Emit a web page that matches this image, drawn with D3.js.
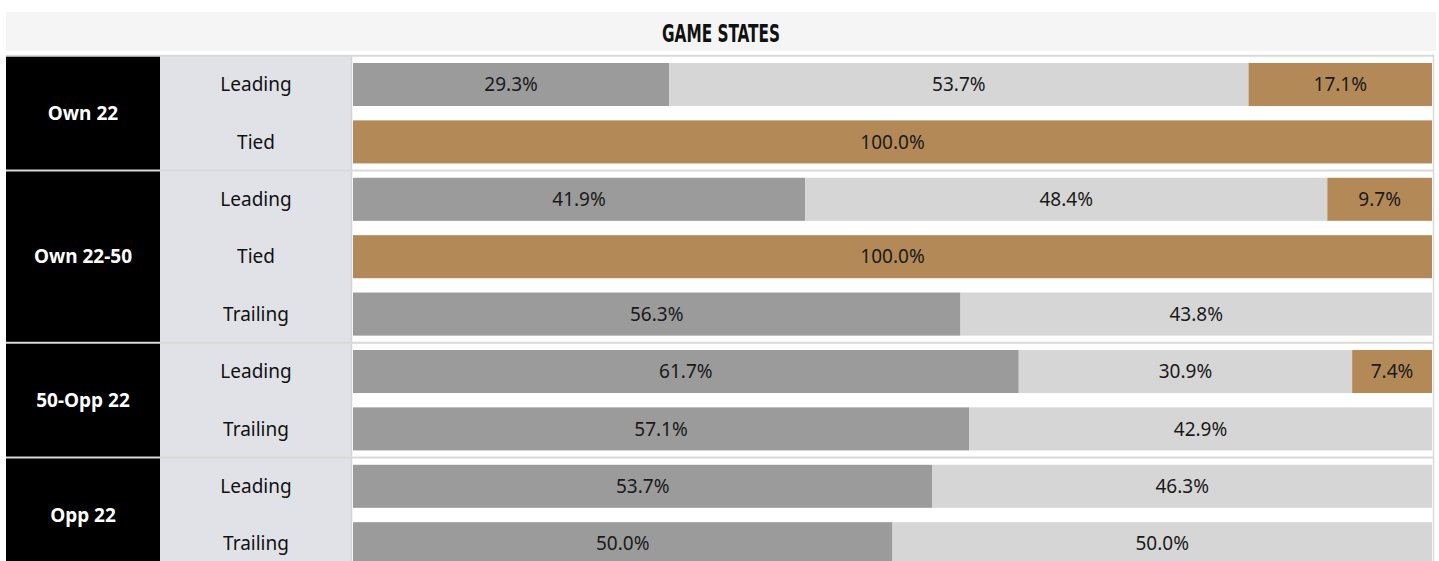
<!DOCTYPE html>
<html>
<head>
<meta charset="utf-8">
<script src="https://cdn.jsdelivr.net/npm/d3@7"></script>
<style>
  body { margin: 0; background: #fff; }
  svg { display: block; }
</style>
</head>
<body>
<div class="canvas"></div>
<script>
// data
const zones = ['Own 22', 'Own 22-50', '50-Opp 22', 'Opp 22'];
const rowZones = ['Own 22', 'Own 22', 'Own 22-50', 'Own 22-50', 'Own 22-50', '50-Opp 22', '50-Opp 22', 'Opp 22', 'Opp 22'];
const rowStates = ['Leading', 'Tied', 'Leading', 'Tied', 'Trailing', 'Leading', 'Trailing', 'Leading', 'Trailing'];
const seriesKeys = ['dark', 'light', 'gold'];
const darkVals = [29.3, 0, 41.9, 0, 56.3, 61.7, 57.1, 53.7, 50.0];
const lightVals = [53.7, 0, 48.4, 0, 43.8, 30.9, 42.9, 46.3, 50.0];
const goldVals = [17.1, 100, 9.7, 100, 0, 7.4, 0, 0, 0];
const title = 'GAME STATES';

const colors = {dark: '#9b9b9b', light: '#d6d6d6', gold: '#b38a57'};

const width = 1439, height = 561;
const svg = d3.select('.canvas')
    .append('svg')
    .attr('width', width)
    .attr('height', height);

// layout
const left = 6, zoneW = 154, stateW = 192;
const barX0 = 353, barX1 = 1432;
const topY = 55.8, step = 57.4;

const rows = rowStates.map((s, i) => ({
  id: i, zone: rowZones[i], state: s,
  dark: darkVals[i], light: lightVals[i], gold: goldVals[i]
}));

const y = d3.scaleBand()
    .domain(rows.map(d => d.id))
    .range([topY, topY + step * rows.length])
    .paddingInner(0.25)
    .paddingOuter(0.125);

const x = d3.scaleLinear()
    .domain([0, 100])
    .range([barX0, barX1])
    .clamp(true);

// title band
svg.append('rect')
    .attr('x', left).attr('y', 12)
    .attr('width', 1430).attr('height', 39)
    .attr('fill', '#f5f5f5');
svg.append('text')
    .attr('x', 721).attr('y', 41.5)
    .attr('text-anchor', 'middle')
    .attr('font-family', '"Liberation Sans Narrow", "DejaVu Sans Condensed", sans-serif')
    .attr('font-weight', 'bold')
    .attr('font-size', 24)
    .attr('textLength', 118)
    .attr('lengthAdjust', 'spacingAndGlyphs')
    .attr('fill', '#111')
    .text(title);

// zone groups
const zoneRows = zones.map(z => {
  const ids = rows.filter(r => r.zone === z).map(r => r.id);
  const y0 = y(ids[0]) - y.step() * y.paddingInner() / 2;
  const y1 = y(ids[ids.length - 1]) + y.bandwidth() + y.step() * y.paddingInner() / 2;
  return {zone: z, y0, y1};
});

// state label panel
svg.append('rect')
    .attr('x', left + zoneW).attr('y', topY)
    .attr('width', stateW).attr('height', height - topY)
    .attr('fill', '#e1e2e7');
svg.append('line')
    .attr('x1', left + zoneW + stateW - 0.5).attr('x2', left + zoneW + stateW - 0.5)
    .attr('y1', topY).attr('y2', height)
    .attr('stroke', '#d3d4d8').attr('stroke-width', 1.5);

// black zone blocks
svg.selectAll('rect.zone')
    .data(zoneRows)
    .enter()
    .append('rect')
    .attr('class', 'zone')
    .attr('x', left)
    .attr('y', d => d.y0)
    .attr('width', zoneW)
    .attr('height', d => d.y1 - d.y0)
    .attr('fill', '#000');

svg.selectAll('text.zone')
    .data(zoneRows)
    .enter()
    .append('text')
    .attr('class', 'zone')
    .attr('x', left + zoneW / 2)
    .attr('y', d => (d.y0 + d.y1) / 2)
    .attr('dy', '0.35em')
    .attr('text-anchor', 'middle')
    .attr('font-family', '"Noto Sans", "Open Sans", sans-serif')
    .attr('font-weight', 'bold')
    .attr('font-size', 19)
    .attr('fill', '#fff')
    .text(d => d.zone);

// separators between zones (and on top)
svg.selectAll('line.sep')
    .data(zoneRows)
    .enter()
    .append('line')
    .attr('class', 'sep')
    .attr('x1', left).attr('x2', barX1 + 2)
    .attr('y1', d => d.y0).attr('y2', d => d.y0)
    .attr('stroke', '#d9d9d9')
    .attr('stroke-width', 2);

// right border of bar area
svg.append('line')
    .attr('x1', barX1 + 1.5).attr('x2', barX1 + 1.5)
    .attr('y1', topY - 1).attr('y2', height)
    .attr('stroke', '#d9d9d9')
    .attr('stroke-width', 1.5);

// state labels
svg.selectAll('text.state')
    .data(rows)
    .enter()
    .append('text')
    .attr('class', 'state')
    .attr('x', left + zoneW + stateW / 2)
    .attr('y', d => y(d.id) + y.bandwidth() / 2)
    .attr('dy', '0.35em')
    .attr('text-anchor', 'middle')
    .attr('font-family', '"Noto Sans", "Open Sans", sans-serif')
    .attr('font-size', 19)
    .attr('fill', '#111')
    .text(d => d.state);

// stacked bars
const stacked = d3.stack().keys(seriesKeys)(rows);

const layers = svg.selectAll('g.layer')
    .data(stacked)
    .enter()
    .append('g')
    .attr('class', 'layer')
    .attr('fill', d => colors[d.key]);

const segs = layers.selectAll('g.seg')
    .data(d => d.filter(s => s[1] - s[0] > 0).map(s => ({s, key: d.key})))
    .enter()
    .append('g')
    .attr('class', 'seg');

segs.append('rect')
    .attr('x', d => x(d.s[0]))
    .attr('y', d => y(d.s.data.id))
    .attr('width', d => x(d.s[1]) - x(d.s[0]))
    .attr('height', y.bandwidth());

segs.append('text')
    .attr('x', d => (x(d.s[0]) + x(d.s[1])) / 2)
    .attr('y', d => y(d.s.data.id) + y.bandwidth() / 2)
    .attr('dy', '0.35em')
    .attr('text-anchor', 'middle')
    .attr('font-family', '"Noto Sans", "Open Sans", sans-serif')
    .attr('font-size', 19)
    .attr('fill', '#1a1a1a')
    .text(d => (d.s[1] - d.s[0]).toFixed(1) + '%');
</script>
</body>
</html>
